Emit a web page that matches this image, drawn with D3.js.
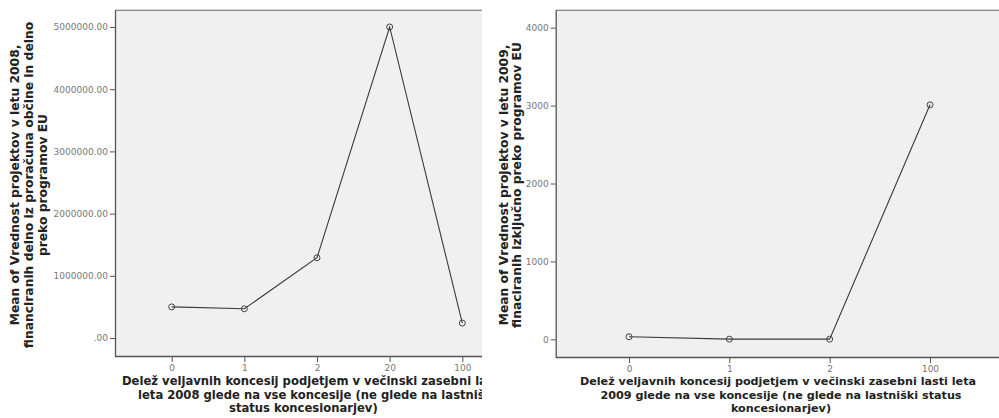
<!DOCTYPE html>
<html><head><meta charset="utf-8">
<script src="https://cdn.jsdelivr.net/npm/d3@7"></script>
<style>
html,body{margin:0;padding:0;background:#fff;}
svg{display:block;}
</style></head>
<body>
<svg id="c" width="999" height="418"></svg>
<script>
// ---- data ----
const categories2008 = ["0", "1", "2", "20", "100"];
const means2008 = [500000, 470000, 1290000, 5000000, 240000];
const yTicks2008 = [0, 1000000, 2000000, 3000000, 4000000, 5000000];
const yTitle2008 = ["Mean of Vrednost projektov v letu 2008,", "financiranih delno iz proračuna občine in delno", "preko programov EU"];
const xTitle2008 = ["Delež veljavnih koncesij podjetjem v večinski zasebni lasti", "leta 2008 glede na vse koncesije (ne glede na lastniški", "status koncesionarjev)"];

const categories2009 = ["0", "1", "2", "100"];
const means2009 = [33, 2, 2, 3010];
const yTicks2009 = [0, 1000, 2000, 3000, 4000];
const yTitle2009 = ["Mean of Vrednost projektov v letu 2009,", "finaciranih izključno preko programov EU"];
const xTitle2009 = ["Delež veljavnih koncesij podjetjem v večinski zasebni lasti leta", "2009 glede na vse koncesije (ne glede na lastniški status", "koncesionarjev)"];

const svg = d3.select("#c");
const defs = svg.append("defs");

function panel(cfg) {
  const clipId = "clip" + cfg.id;
  defs.append("clipPath").attr("id", clipId).append("rect")
    .attr("x", cfg.clipX0).attr("y", 0).attr("width", cfg.clipX1 - cfg.clipX0).attr("height", 418);
  const g = svg.append("g").attr("clip-path", `url(#${clipId})`);

  const x = d3.scalePoint().domain(cfg.cats).range([cfg.firstX, cfg.lastX]);
  const y = d3.scaleLinear().domain(cfg.yDomain).range([cfg.bottom, cfg.top]);

  g.append("rect").attr("x", cfg.left).attr("y", cfg.top)
    .attr("width", cfg.right - cfg.left).attr("height", cfg.bottom - cfg.top)
    .attr("fill", "#f0f0f0");
  g.append("line").attr("x1", cfg.left).attr("x2", cfg.right).attr("y1", cfg.top - 0.5).attr("y2", cfg.top - 0.5)
    .attr("stroke", "#d8d8d8").attr("stroke-width", 1);
  g.append("line").attr("x1", cfg.left).attr("x2", cfg.right).attr("y1", cfg.top + 0.5).attr("y2", cfg.top + 0.5)
    .attr("stroke", "#8a8a8a").attr("stroke-width", 1);

  const ya = g.append("g").attr("transform", `translate(${cfg.left},0)`)
    .call(d3.axisLeft(y).tickValues(cfg.yTicks).tickSize(5).tickPadding(2).tickFormat(cfg.yFmt).tickSizeOuter(0));
  ya.select(".domain").attr("stroke", "#555").attr("stroke-width", 1.3);
  ya.selectAll(".tick line").attr("stroke", "#555");
  ya.selectAll(".tick text").attr("fill", "#777").style("font-family", "DejaVu Sans").style("font-size", "9px");

  const xa = g.append("g").attr("transform", `translate(0,${cfg.bottom})`)
    .call(d3.axisBottom(x).tickSize(6).tickPadding(3).tickSizeOuter(0));
  xa.select(".domain").attr("d", `M${cfg.left},0.5H${cfg.right}`).attr("stroke", "#555").attr("stroke-width", 1.3);
  xa.selectAll(".tick line").attr("stroke", "#555");
  xa.selectAll(".tick text").attr("fill", "#777").style("font-family", "DejaVu Sans").style("font-size", "9px");

  const pts = cfg.cats.map((c, i) => [x(c), y(cfg.vals[i])]);
  g.append("path").attr("d", d3.line()(pts)).attr("fill", "none")
    .attr("stroke", "#3a3a3a").attr("stroke-width", 1.1);
  g.selectAll("circle.m").data(pts).enter().append("circle").attr("class", "m")
    .attr("cx", d => d[0]).attr("cy", d => d[1]).attr("r", 3)
    .attr("fill", "none").attr("stroke", "#444").attr("stroke-width", 1);

  const yt = g.append("text")
    .attr("transform", `translate(${cfg.yTitleX},${cfg.yTitleY}) rotate(-90)`)
    .attr("text-anchor", "middle")
    .style("font-family", "DejaVu Sans").style("font-weight", "bold").style("font-size", cfg.yTitleSize + "px")
    .attr("fill", "#222");
  cfg.yTitle.forEach((t, i) => {
    yt.append("tspan").attr("x", 0).attr("y", i * cfg.lineH).text(t);
  });

  const xt = g.append("text")
    .style("font-family", "DejaVu Sans").style("font-weight", "bold").style("font-size", cfg.xTitleSize + "px")
    .attr("fill", "#222");
  cfg.xTitle.forEach((t, i) => {
    xt.append("tspan").attr("x", cfg.xTitleX[i]).attr("y", cfg.xTitleY + i * cfg.xLineH)
      .attr("text-anchor", cfg.xAnchor).text(t);
  });
}

panel({
  id: 1, cats: categories2008, vals: means2008, yTicks: yTicks2008,
  yFmt: v => d3.format(".2f")(v).replace(/^0\./, "."),
  left: 115, right: 520, top: 10, bottom: 356, clipX0: 0, clipX1: 482,
  firstX: 171.7, lastX: 462.3,
  yDomain: [-289000, 5273000],
  yTitle: yTitle2008, yTitleX: 19, yTitleY: 185, lineH: 13.8, yTitleSize: 12.3,
  xTitle: xTitle2008, xTitleX: [122, 138, 229], xAnchor: "start", xTitleY: 385, xLineH: 13.5,
  xTitleSize: 11.6
});

panel({
  id: 2, cats: categories2009, vals: means2009, yTicks: yTicks2009,
  yFmt: d3.format("d"),
  left: 555.7, right: 1005, top: 10, bottom: 357, clipX0: 488, clipX1: 999,
  firstX: 629, lastX: 930,
  yDomain: [-227, 4227],
  yTitle: yTitle2009, yTitleX: 508, yTitleY: 185, lineH: 13.4, yTitleSize: 12.3,
  xTitle: xTitle2009, xTitleX: [778, 781, 781], xAnchor: "middle", xTitleY: 385, xLineH: 13.5,
  xTitleSize: 11.2
});
</script>
</body></html>
